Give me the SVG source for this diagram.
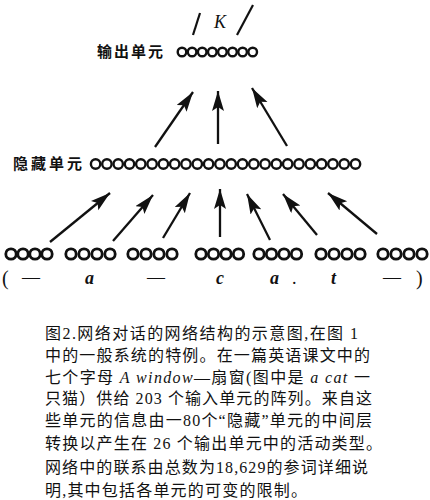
<svg xmlns="http://www.w3.org/2000/svg" width="430" height="500" viewBox="0 0 430 500">
<defs>
<style>
.u{fill:none;stroke:#111;stroke-width:2.4}
.ui{fill:none;stroke:#111;stroke-width:2.8}
.lbl{font-family:"Noto Sans CJK SC",sans-serif;font-weight:bold;font-size:15px;fill:#111}
.sym{font-family:"Liberation Serif",serif;font-size:18px;fill:#111}
.it{font-style:italic}
.b{font-weight:bold}
.cap{font-family:"Liberation Serif","Noto Sans CJK SC",serif;font-size:16px;fill:#111}
.arr{stroke:#111;stroke-width:2.3;fill:none;marker-end:url(#ah)}
.sl{stroke:#111;stroke-width:2.2}
</style>
<marker id="ah" markerUnits="userSpaceOnUse" markerWidth="22" markerHeight="14" refX="20" refY="6" orient="auto">
<path d="M0,0 L20,6 L0,12 L4,6 Z" fill="#111"/>
</marker>
</defs>
<rect width="430" height="500" fill="#fff"/>

<g id="output-layer">
<text class="sym it" x="214" y="28" font-size="19">K</text>
<line class="sl" x1="200" y1="13" x2="193" y2="35"/>
<line class="sl" x1="253" y1="5" x2="237" y2="35"/>
<text class="lbl" x="97" y="57" textLength="66" lengthAdjust="spacing">输出单元</text>
<g class="u">
<circle cx="182" cy="52" r="4.3"/><circle cx="192.1" cy="52" r="4.3"/><circle cx="202.2" cy="52" r="4.3"/><circle cx="212.3" cy="52" r="4.3"/>
<circle cx="222.4" cy="52" r="4.3"/><circle cx="232.5" cy="52" r="4.3"/><circle cx="242.6" cy="52" r="4.3"/><circle cx="252.7" cy="52" r="4.3"/>
</g>
</g>

<g id="hidden-layer">
<text class="lbl" x="13" y="169" textLength="69" lengthAdjust="spacing">隐藏单元</text>
<g class="u">
<circle cx="95.6" cy="164" r="4.7"/><circle cx="106.9" cy="164" r="4.7"/><circle cx="118.2" cy="164" r="4.7"/><circle cx="129.5" cy="164" r="4.7"/>
<circle cx="140.8" cy="164" r="4.7"/><circle cx="152.1" cy="164" r="4.7"/><circle cx="163.4" cy="164" r="4.7"/><circle cx="174.7" cy="164" r="4.7"/>
<circle cx="186" cy="164" r="4.7"/><circle cx="197.3" cy="164" r="4.7"/><circle cx="208.6" cy="164" r="4.7"/><circle cx="219.9" cy="164" r="4.7"/>
<circle cx="231.2" cy="164" r="4.7"/><circle cx="242.5" cy="164" r="4.7"/><circle cx="253.8" cy="164" r="4.7"/><circle cx="265.1" cy="164" r="4.7"/>
<circle cx="276.4" cy="164" r="4.7"/><circle cx="287.7" cy="164" r="4.7"/><circle cx="299" cy="164" r="4.7"/><circle cx="310.3" cy="164" r="4.7"/>
<circle cx="321.6" cy="164" r="4.7"/><circle cx="332.9" cy="164" r="4.7"/><circle cx="344.2" cy="164" r="4.7"/><circle cx="355.5" cy="164" r="4.7"/>
</g>
</g>

<g id="input-1" class="ui"><circle cx="11" cy="254" r="5.2"/><circle cx="23" cy="254" r="5.2"/><circle cx="35" cy="254" r="5.2"/><circle cx="47" cy="254" r="5.2"/></g>
<g id="input-2" class="ui"><circle cx="71" cy="254" r="5.2"/><circle cx="84" cy="254" r="5.2"/><circle cx="97" cy="254" r="5.2"/><circle cx="110" cy="254" r="5.2"/></g>
<g id="input-3" class="ui"><circle cx="133" cy="254" r="5.2"/><circle cx="146" cy="254" r="5.2"/><circle cx="159" cy="254" r="5.2"/><circle cx="172" cy="254" r="5.2"/></g>
<g id="input-4" class="ui"><circle cx="201" cy="254" r="5.2"/><circle cx="213.5" cy="254" r="5.2"/><circle cx="226" cy="254" r="5.2"/><circle cx="238.5" cy="254" r="5.2"/></g>
<g id="input-5" class="ui"><circle cx="259" cy="254" r="5.2"/><circle cx="271.5" cy="254" r="5.2"/><circle cx="284" cy="254" r="5.2"/><circle cx="296.5" cy="254" r="5.2"/></g>
<g id="input-6" class="ui"><circle cx="321" cy="254" r="5.2"/><circle cx="334" cy="254" r="5.2"/><circle cx="347" cy="254" r="5.2"/><circle cx="360" cy="254" r="5.2"/></g>
<g id="input-7" class="ui"><circle cx="383" cy="254" r="5.2"/><circle cx="396" cy="254" r="5.2"/><circle cx="409" cy="254" r="5.2"/><circle cx="422" cy="254" r="5.2"/></g>

<g id="input-letters" class="sym">
<text x="2" y="285" font-size="20">(</text>
<text x="22" y="283">—</text>
<text class="it b" x="85" y="284">a</text>
<text x="147" y="283">—</text>
<text class="it b" x="216" y="284">c</text>
<text class="it b" x="270" y="284">a</text>
<text x="292" y="284">.</text>
<text class="it b" x="331" y="284">t</text>
<text x="383" y="283">—</text>
<text x="416" y="285" font-size="20">)</text>
</g>

<g id="connectors">
<line class="arr" x1="155" y1="147" x2="193" y2="92"/>
<line class="arr" x1="218" y1="144" x2="218" y2="91"/>
<line class="arr" x1="287" y1="146" x2="252" y2="88"/>
<line class="arr" x1="50" y1="242" x2="110" y2="193"/>
<line class="arr" x1="113" y1="241" x2="153" y2="195"/>
<line class="arr" x1="163" y1="238" x2="190" y2="193"/>
<line class="arr" x1="220" y1="237" x2="220" y2="189"/>
<line class="arr" x1="270" y1="240" x2="247" y2="194"/>
<line class="arr" x1="317" y1="235" x2="283" y2="194"/>
<line class="arr" x1="377" y1="234" x2="328" y2="193"/>
</g>

<g id="caption" class="cap">
<text x="45" y="338.5" textLength="313" lengthAdjust="spacing">图2.网络对话的网络结构的示意图,在图 1</text>
<text x="45" y="360.5" textLength="325" lengthAdjust="spacing">中的一般系统的特例。在一篇英语课文中的</text>
<text x="45" y="382.5" textLength="325" lengthAdjust="spacing">七个字母 <tspan class="it">A window</tspan>—扇窗(图中是 <tspan class="it">a cat</tspan> 一</text>
<text x="45" y="404" textLength="327" lengthAdjust="spacing">只猫）供给 203 个输入单元的阵列。来自这</text>
<text x="45" y="426" textLength="327" lengthAdjust="spacing">些单元的信息由一80个“隐藏”单元的中间层</text>
<text x="45" y="449" textLength="337" lengthAdjust="spacing">转换以产生在 26 个输出单元中的活动类型。</text>
<text x="45" y="472.5" textLength="323" lengthAdjust="spacing">网络中的联系由总数为18,629的参词详细说</text>
<text x="45" y="495.5" textLength="262" lengthAdjust="spacing">明,其中包括各单元的可变的限制。</text>
</g>
</svg>
